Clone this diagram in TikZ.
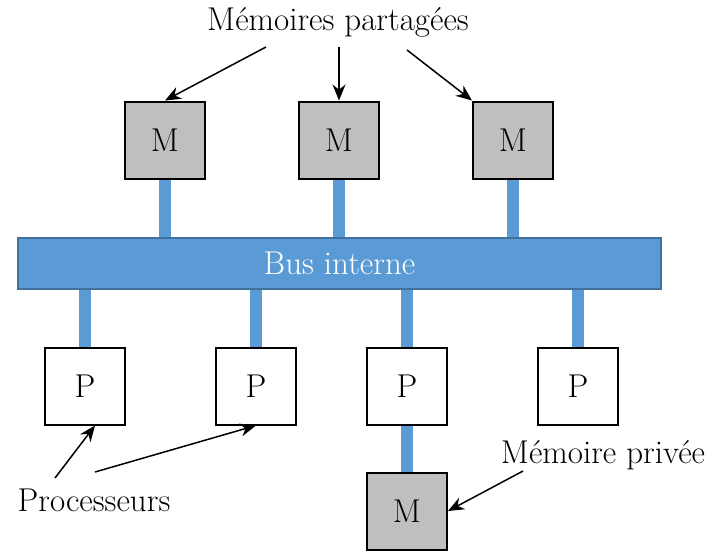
\documentclass[tikz,border=0pt]{standalone}
\usepackage{tikz}
\usetikzlibrary{arrows.meta,positioning}

\definecolor{busblue}{HTML}{5B9BD5}
\definecolor{busedge}{HTML}{41719C}
\definecolor{memgray}{HTML}{BFBFBF}

\begin{document}
\begin{tikzpicture}[x=1pt, y=-1pt,
        every node/.style={font=\fontsize{33}{38}\selectfont},
        mem/.style={draw=black, line width=2pt, fill=memgray, minimum width=80pt, minimum height=77pt, inner sep=0pt},
        proc/.style={mem, fill=white},
        bus/.style={draw=busedge, line width=2pt, fill=busblue, text=white, minimum width=643pt, minimum height=51pt},
        link/.style={draw=busblue, line width=12pt},
        pointer/.style={-{Stealth[length=16pt,width=13pt]}, line width=1.5pt},
        tag/.style={inner sep=0pt}]

    \useasboundingbox (0,0) rectangle (708,552);

    % bus and memories
    \node[bus] (bus) at (339.5,263.5) {Bus interne};
    \node[mem] (m1) at (165,140) {M};
    \node[mem] (m2) at (339,140) {M};
    \node[mem] (m3) at (513,140) {M};
    \foreach \m in {m1,m2,m3}
        \draw[link] (\m.south) -- (\m.south |- bus.north);

    % processors
    \node[proc] (p1) at (85,386) {P};
    \node[proc] (p2) at (256,386) {P};
    \node[proc] (p3) at (407,386) {P};
    \node[proc] (p4) at (578,386) {P};
    \foreach \p in {p1,p2,p3,p4}
        \draw[link] (\p.north |- bus.south) -- (\p.north);

    \node[mem] (m4) at (407,511) {M};
    \draw[link] (p3.south) -- (m4.north);

    % labels
    \node[tag] (shared) at (338,22) {Mémoires partagées};
    \node[tag] (procs) at (94,500) {Processeurs};
    \node[tag] (private) at (603,455) {Mémoire privée};

    \coordinate (s1) at (266,47);
    \coordinate (s2) at (339,47);
    \coordinate (s3) at (407,50);
    \coordinate (q1) at (55,478);
    \coordinate (q2) at (95,472);
    \coordinate (r1) at (523,471);

    \draw[pointer] (s1) -- (m1.north);
    \draw[pointer] (s2) -- (m2.north);
    \draw[pointer] (s3) -- (m3.north west);
    \draw[pointer] (q1) -- ([xshift=10pt]p1.south);
    \draw[pointer] (q2) -- (p2.south);
    \draw[pointer] (r1) -- (m4.east);
\end{tikzpicture}
\end{document}
